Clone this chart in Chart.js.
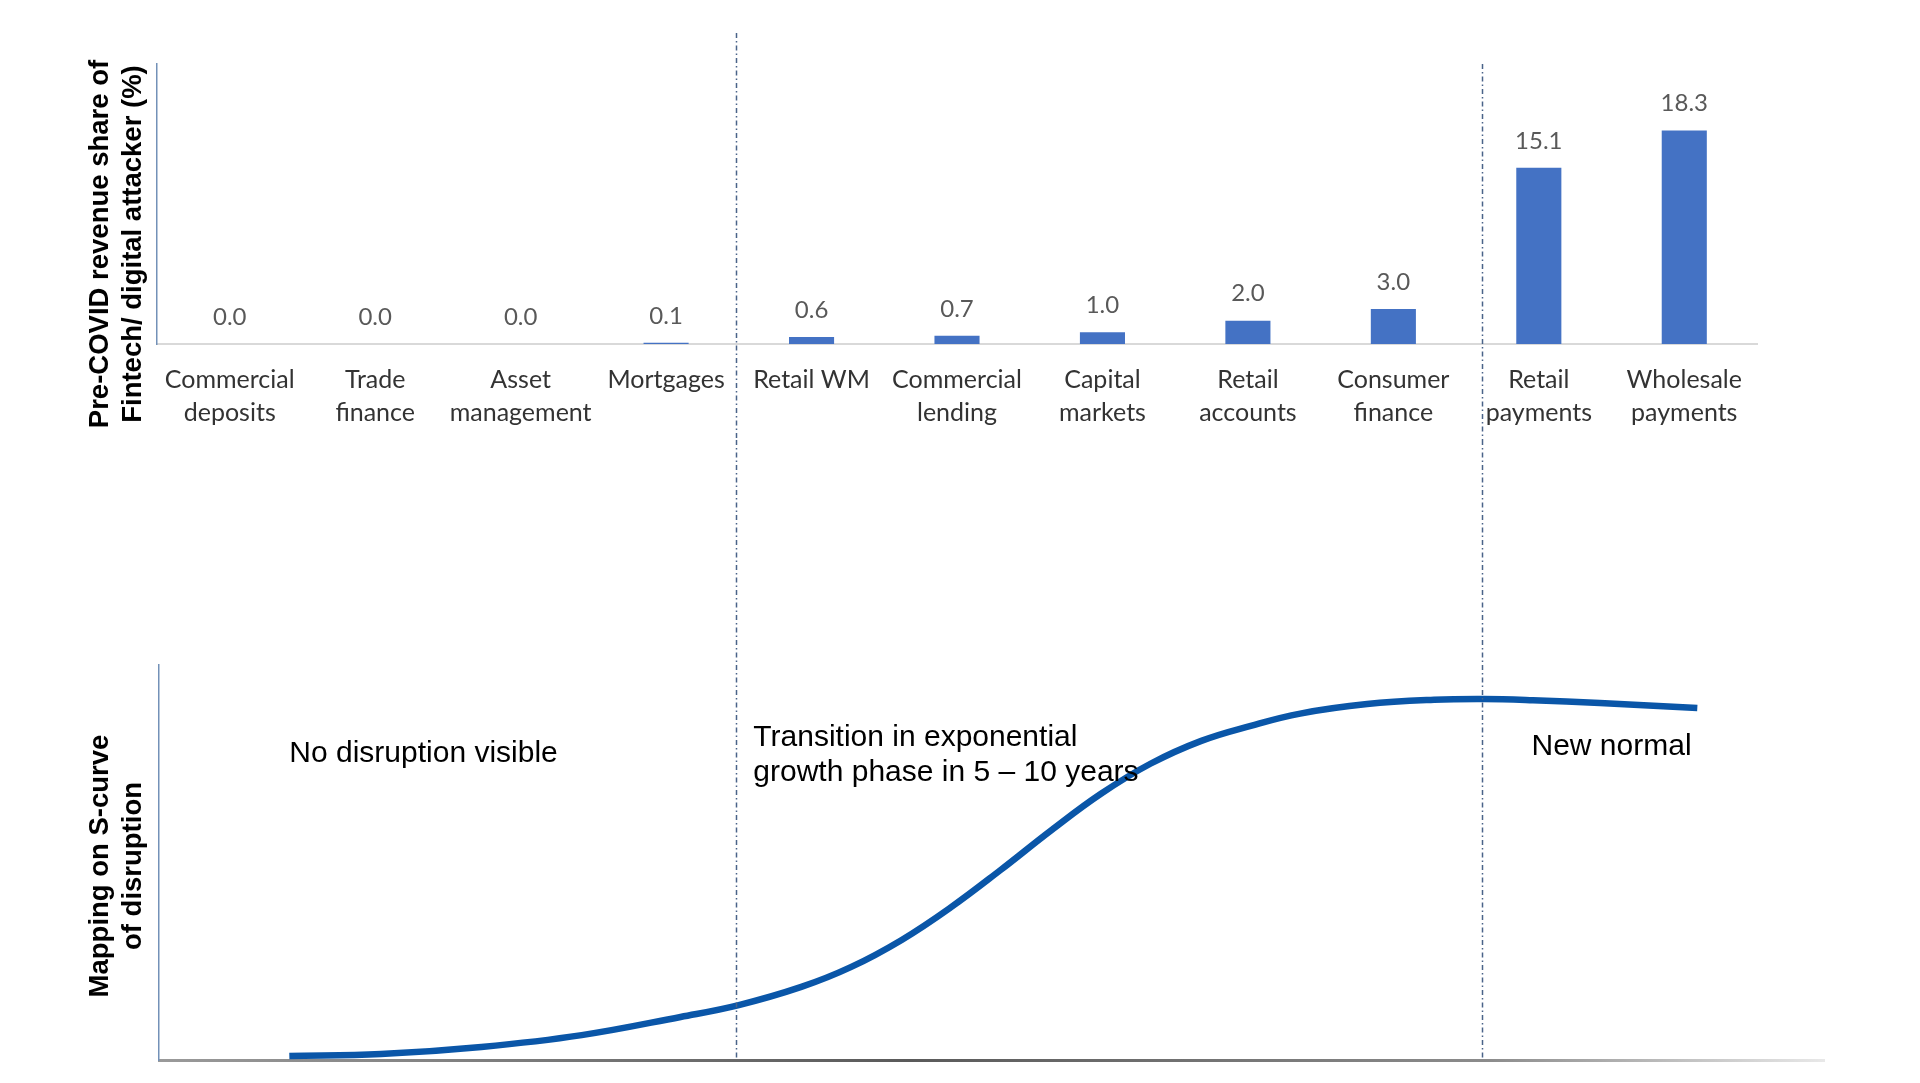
<!DOCTYPE html>
<html>
<head>
<meta charset="utf-8">
<script src="https://cdn.jsdelivr.net/npm/chart.js@4.4.1/dist/chart.umd.min.js"></script>
<style>
  body { margin: 0; background: #fff; width: 1920px; height: 1083px; overflow: hidden; position: relative; }
  canvas { position: absolute; left: 0; }
  #topChart { top: 0; }
  #bottomChart { top: 440px; }
  .axisTitle {
    position: absolute; width: 440px; height: 66px;
    font: bold 27.5px "Liberation Sans", Arial, sans-serif; line-height: 33px;
    text-align: center; color: #000; white-space: nowrap;
    transform: rotate(-90deg);
  }
</style>
</head>
<body>
<canvas id="topChart" width="1920" height="440"></canvas>
<canvas id="bottomChart" width="1920" height="643"></canvas>
<div class="axisTitle" style="left:-105.5px; top:211px;">Pre-COVID revenue share of<br>Fintech/ digital attacker (%)</div>
<div class="axisTitle" style="left:-105.5px; top:833px;">Mapping on S-curve<br>of disruption</div>

<script>
// Data
var categories = [
  ['Commercial', 'deposits'], ['Trade', 'finance'], ['Asset', 'management'], ['Mortgages'],
  ['Retail WM'], ['Commercial', 'lending'], ['Capital', 'markets'], ['Retail', 'accounts'],
  ['Consumer', 'finance'], ['Retail', 'payments'], ['Wholesale', 'payments']
];
var revenueShare = [0.0, 0.0, 0.0, 0.1, 0.6, 0.7, 1.0, 2.0, 3.0, 15.1, 18.3];

// S-curve, x in category units (same as top chart), y in 0-100
var curveX = [0.41, 1.04, 1.73, 2.42, 3.10, 3.50, 3.93, 4.27, 4.62, 4.96, 5.30, 5.65,
              5.99, 6.33, 6.68, 7.02, 7.36, 7.82, 8.28, 8.62, 8.96, 9.42, 10.09];
var curveY = [1.0, 1.5, 3.3, 6.3, 10.9, 13.9, 18.5, 23.5, 30.4, 38.7, 48.1, 58.2,
              67.4, 75.0, 80.8, 84.6, 87.7, 90.1, 91.2, 91.4, 91.1, 90.4, 89.1];

// phase boundaries (category units)
var dividers = [3.48, 8.61];

var phaseText = [['No disruption visible'], ['Transition in exponential', 'growth phase in 5 \u2013 10 years'], ['New normal']];
var phaseX = [0.41, 3.60, 8.95];
var phaseY = [77.5, 81.5, 79.2];

//Plugins
var dividerPlugin = {
  id: 'dividers',
  afterDraw: function (chart, args, opts) {
    var ctx = chart.ctx;
    var xs = chart.scales.x;
    var bottom = opts.toArea ? chart.chartArea.bottom : chart.height;
    ctx.save();
    ctx.strokeStyle = '#4a6389';
    ctx.lineWidth = 1.5;
    ctx.setLineDash([5, 3, 1.5, 3]);
    dividers.forEach(function (d, i) {
      var x = Math.round(xs.getPixelForValue(d)) + 0.5;
      ctx.beginPath();
      ctx.moveTo(x, opts.tops[i]);
      ctx.lineTo(x, bottom);
      ctx.stroke();
    });
    ctx.restore();
  }
};

var valueLabels = {
  id: 'valueLabels',
  afterDatasetsDraw: function (chart) {
    var ctx = chart.ctx;
    var meta = chart.getDatasetMeta(0);
    ctx.save();
    ctx.font = '24px Lato';
    ctx.fillStyle = '#595959';
    ctx.textAlign = 'center';
    ctx.textBaseline = 'middle';
    meta.data.forEach(function (bar, i) {
      ctx.fillText(revenueShare[i].toFixed(1), bar.x, bar.y - 27);
    });
    ctx.restore();
  }
};

var phaseLabels = {
  id: 'phaseLabels',
  afterDatasetsDraw: function (chart) {
    var ctx = chart.ctx;
    ctx.save();
    ctx.font = '30px "Liberation Sans", Arial';
    ctx.fillStyle = '#000';
    ctx.textAlign = 'left';
    ctx.textBaseline = 'middle';
    phaseText.forEach(function (lines, i) {
      var x = chart.scales.x.getPixelForValue(phaseX[i]);
      var y = chart.scales.y.getPixelForValue(phaseY[i]);
      lines.forEach(function (line, j) {
        ctx.fillText(line, x, y + j * 35);
      });
    });
    ctx.restore();
  }
};

// Top chart - revenue share bars
var topChart = new Chart(document.getElementById('topChart'), {
  type: 'bar',
  data: {
    labels: categories,
    datasets: [{
      data: revenueShare,
      backgroundColor: '#4472c4',
      barPercentage: 0.31,
      categoryPercentage: 1
    }]
  },
  options: {
    responsive: false,
    animation: false,
    layout: { padding: { top: 64, right: 163, left: 0, bottom: 0 } },
    plugins: {
      legend: { display: false },
      tooltip: { enabled: false },
      dividers: { tops: [33, 64], toArea: false }
    },
    scales: {
      x: {
        grid: { display: false, drawTicks: false },
        border: { color: '#d9d9d9', width: 2 },
        ticks: {
          autoSkip: false, maxRotation: 0, padding: 20,
          color: '#333',
          font: { family: 'Lato', size: 25, lineHeight: 1.3 }
        },
        afterFit: function (scale) { scale.height = 96; }
      },
      y: {
        min: 0, max: 24,
        grid: { display: false, drawTicks: false },
        ticks: { display: false },
        border: { color: '#7391b8', width: 1.5 },
        afterFit: function (scale) { scale.width = 157; }
      }
    }
  },
  plugins: [valueLabels, dividerPlugin]
});

// Bottom chart - S-curve
var bottomChart = new Chart(document.getElementById('bottomChart'), {
  type: 'line',
  data: {
    datasets: [{
      data: curveX.map(function (x, i) { return { x: x, y: curveY[i] }; }),
      borderColor: '#0a56a8',
      borderWidth: 6.5,
      borderCapStyle: 'butt',
      pointRadius: 0,
      fill: false,
      tension: 0.4
    }]
  },
  options: {
    responsive: false,
    animation: false,
    layout: { padding: { top: 225, right: 96, left: 0, bottom: 0 } },
    plugins: {
      legend: { display: false },
      tooltip: { enabled: false },
      dividers: { tops: [0, 0], toArea: true }
    },
    scales: {
      x: {
        type: 'linear', min: -0.486, max: 10.961,
        grid: { display: false, drawTicks: false },
        ticks: { display: false },
        border: {
          width: 3,
          color: function (c) {
            var ch = c.chart, ca = ch.chartArea;
            if (!ca) return '#777';
            var g = ch.ctx.createLinearGradient(ca.left, 0, ca.right, 0);
            g.addColorStop(0, '#9a9a9a');
            g.addColorStop(0.45, '#5a5a5a');
            g.addColorStop(0.8, '#8c8c8c');
            g.addColorStop(1, '#e8e8e8');
            return g;
          }
        },
        afterFit: function (scale) { scale.height = 23; }
      },
      y: {
        min: 0, max: 100,
        grid: { display: false, drawTicks: false },
        ticks: { display: false },
        border: { color: '#7391b8', width: 1.5 },
        afterFit: function (scale) { scale.width = 159; }
      }
    }
  },
  plugins: [phaseLabels, dividerPlugin]
});
</script>
</body>
</html>
